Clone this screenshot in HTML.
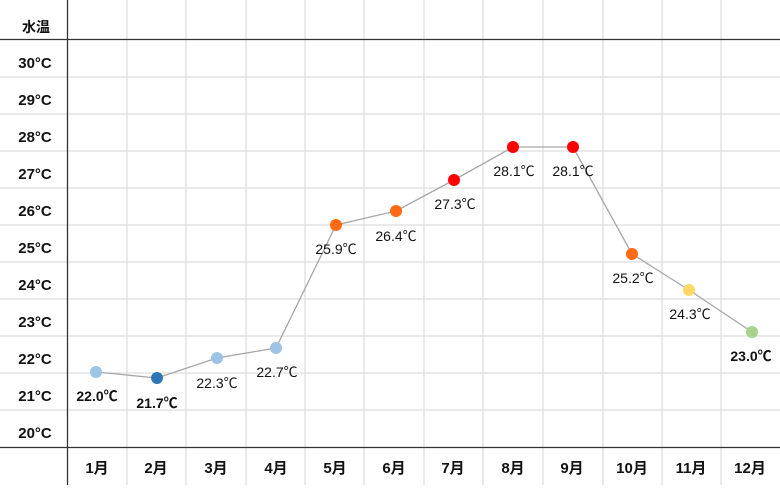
<!DOCTYPE html>
<html><head><meta charset="utf-8"><style>
html,body{margin:0;padding:0;background:#fff;}
svg text{font-family:"Liberation Sans","Noto Sans CJK JP",sans-serif;fill:#111;}
</style></head><body>
<svg width="780" height="485" xmlns="http://www.w3.org/2000/svg">
<g stroke="#dedede" stroke-width="1.3">
<line x1="127" y1="0" x2="127" y2="485"/><line x1="186" y1="0" x2="186" y2="485"/>
<line x1="246" y1="0" x2="246" y2="485"/><line x1="305" y1="0" x2="305" y2="485"/>
<line x1="364" y1="0" x2="364" y2="485"/><line x1="424" y1="0" x2="424" y2="485"/>
<line x1="483" y1="0" x2="483" y2="485"/><line x1="543" y1="0" x2="543" y2="485"/>
<line x1="603" y1="0" x2="603" y2="485"/><line x1="662" y1="0" x2="662" y2="485"/>
<line x1="721" y1="0" x2="721" y2="485"/>
<line x1="0" y1="77" x2="780" y2="77"/><line x1="0" y1="114" x2="780" y2="114"/>
<line x1="0" y1="151" x2="780" y2="151"/><line x1="0" y1="188" x2="780" y2="188"/>
<line x1="0" y1="225" x2="780" y2="225"/><line x1="0" y1="262" x2="780" y2="262"/>
<line x1="0" y1="299" x2="780" y2="299"/><line x1="0" y1="336" x2="780" y2="336"/>
<line x1="0" y1="373" x2="780" y2="373"/><line x1="0" y1="410" x2="780" y2="410"/>
</g>
<line x1="0" y1="39.5" x2="780" y2="39.5" stroke="#333" stroke-width="1.3"/>
<line x1="0" y1="447.5" x2="780" y2="447.5" stroke="#333" stroke-width="1.3"/>
<line x1="67.5" y1="0" x2="67.5" y2="485" stroke="#333" stroke-width="1.3"/>
<g font-size="15" font-weight="bold" text-anchor="middle">
<text x="36" y="32" font-size="14">水温</text>
<text x="35" y="68">30°C</text><text x="35" y="105">29°C</text><text x="35" y="142">28°C</text>
<text x="35" y="179">27°C</text><text x="35" y="216">26°C</text><text x="35" y="253">25°C</text>
<text x="35" y="290">24°C</text><text x="35" y="327">23°C</text><text x="35" y="364">22°C</text>
<text x="35" y="401">21°C</text><text x="35" y="438">20°C</text>
<text x="97" y="473">1月</text><text x="156" y="473">2月</text><text x="216" y="473">3月</text>
<text x="276" y="473">4月</text><text x="335" y="473">5月</text><text x="394" y="473">6月</text>
<text x="453" y="473">7月</text><text x="513" y="473">8月</text><text x="572" y="473">9月</text>
<text x="632" y="473">10月</text><text x="691" y="473">11月</text><text x="750" y="473">12月</text>
</g>
<polyline fill="none" stroke="#a6a6a6" stroke-width="1.3" points="96,372 157,378 217,358 276,348 336,225 396,211 454,180 513,147 573,147 632,254 689,290 752,332"/>
<circle cx="96" cy="372" r="6" fill="#9dc3e6"/><circle cx="157" cy="378" r="6" fill="#2e75b6"/>
<circle cx="217" cy="358" r="6" fill="#9dc3e6"/><circle cx="276" cy="348" r="6" fill="#9dc3e6"/>
<circle cx="336" cy="225" r="6" fill="#ff6a13"/><circle cx="396" cy="211" r="6" fill="#ff6a13"/>
<circle cx="454" cy="180" r="6" fill="#ff0000"/><circle cx="513" cy="147" r="6" fill="#ff0000"/>
<circle cx="573" cy="147" r="6" fill="#ff0000"/><circle cx="632" cy="254" r="6" fill="#ff6a13"/>
<circle cx="689" cy="290" r="6" fill="#ffd966"/><circle cx="752" cy="332" r="6" fill="#a9d18e"/>
<g font-size="14" text-anchor="middle">
<text x="97" y="401" font-weight="bold">22.0℃</text>
<text x="157" y="408" font-weight="bold">21.7℃</text>
<text x="217" y="388">22.3℃</text>
<text x="277" y="377">22.7℃</text>
<text x="336" y="254">25.9℃</text>
<text x="396" y="241">26.4℃</text>
<text x="455" y="209">27.3℃</text>
<text x="514" y="176">28.1℃</text>
<text x="573" y="176">28.1℃</text>
<text x="633" y="283">25.2℃</text>
<text x="690" y="319">24.3℃</text>
<text x="751" y="361" font-weight="bold">23.0℃</text>
</g>
</svg>
</body></html>
